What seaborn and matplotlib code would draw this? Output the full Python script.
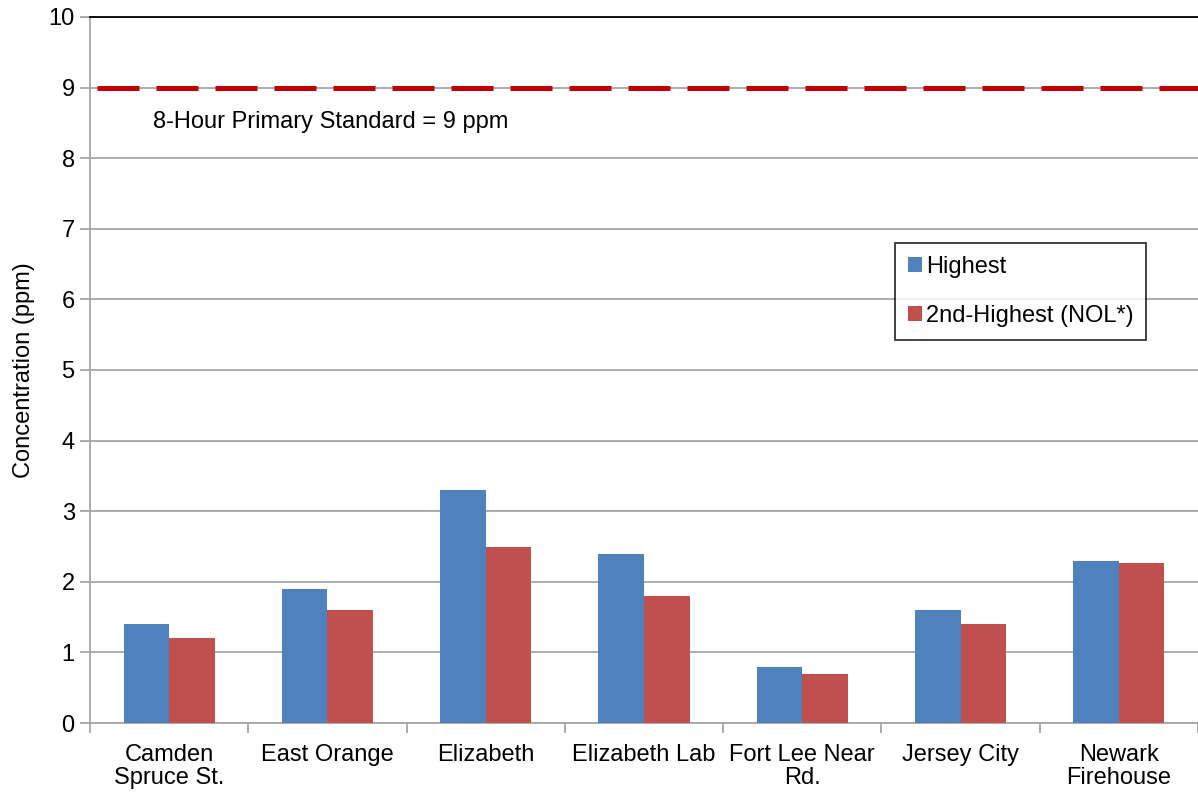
import numpy as np
import pandas as pd
import matplotlib
matplotlib.use("Agg")
import matplotlib.pyplot as plt
import seaborn as sns

# Data.
sites = ["Camden\nSpruce St.", "East Orange", "Elizabeth", "Elizabeth Lab",
         "Fort Lee Near\nRd.", "Jersey City", "Newark\nFirehouse"]
highest = [1.4, 1.9, 3.3, 2.4, 0.8, 1.6, 2.3]
second_highest = [1.2, 1.6, 2.5, 1.8, 0.7, 1.4, 2.26]
series_names = ["Highest", "2nd-Highest (NOL*)"]
standard = 9
standard_label = "8-Hour Primary Standard = 9 ppm"

# Long format for seaborn.
df = pd.DataFrame({
    "Site": sites * 2,
    "Value": highest + second_highest,
    "Series": [series_names[0]] * len(sites) + [series_names[1]] * len(sites),
})

sns.set_style("white")
plt.rcParams["font.family"] = ["Liberation Sans", "DejaVu Sans"]
plt.rcParams["text.color"] = "black"
plt.rcParams["axes.labelcolor"] = "black"
fs = 17

f = plt.figure(figsize=(11.98, 7.94), dpi=100)
ax = f.add_axes([90 / 1198, 1 - 723 / 794, 1 - 90 / 1198, (723 - 17) / 794])

sns.barplot(data=df, x="Site", y="Value", hue="Series",
            palette=["#4F81BD", "#C0504D"], width=0.575, gap=0,
            saturation=1, linewidth=0, ax=ax, zorder=3)

# Axis limits and gridlines.
ax.set_ylim(0, 10)
ax.set_xlim(-0.5, len(sites) - 0.5)
ax.set_yticks(np.arange(0, 11, 1))
ax.yaxis.grid(True, color="#A6A6A6", linewidth=1.3, zorder=0)
ax.set_axisbelow(True)

# Standard line (dashed, starts with a short gap).
ax.axhline(standard, color="#C00000", linewidth=3.6,
           linestyle=(10.4, (8.4, 3.4)), zorder=4)
ax.text(-0.102, 8.51, standard_label, fontsize=fs, ha="left", va="center")

# Spines.
for side in ["left", "bottom"]:
    ax.spines[side].set_color("#A6A6A6")
    ax.spines[side].set_linewidth(1.3)
ax.spines["top"].set_color("black")
ax.spines["top"].set_linewidth(1.3)
ax.spines["right"].set_visible(False)

# Ticks: category labels centered, tick marks between categories.
ax.set_xticks(np.arange(len(sites)))
ax.set_xticklabels(sites, fontsize=fs, linespacing=1.05)
ax.set_xticks(np.arange(len(sites) + 1) - 0.5, minor=True)
ax.tick_params(axis="x", which="major", length=0, pad=15,
               labelcolor="black")
ax.tick_params(axis="x", which="minor", length=7, width=1.3,
               color="#A6A6A6", direction="out", bottom=True)
ax.tick_params(axis="y", length=7, width=1.3, color="#A6A6A6",
               direction="out", left=True, labelsize=fs, pad=4,
               labelcolor="black")

# Labels.
ax.set_xlabel("")
ax.set_ylabel("Concentration (ppm)", fontsize=fs, labelpad=10)

# Legend.
handles, labels = ax.get_legend_handles_labels()
leg = ax.legend(handles, labels, loc="upper left",
                bbox_to_anchor=(0.7265, 0.68), fontsize=fs,
                frameon=True, fancybox=False, edgecolor="black",
                handlelength=0.6, handleheight=0.6, handletextpad=0.15,
                labelspacing=1.15, borderpad=0.55, borderaxespad=0)
leg.get_frame().set_linewidth(1.3)

plt.savefig("out.png", dpi=100)
